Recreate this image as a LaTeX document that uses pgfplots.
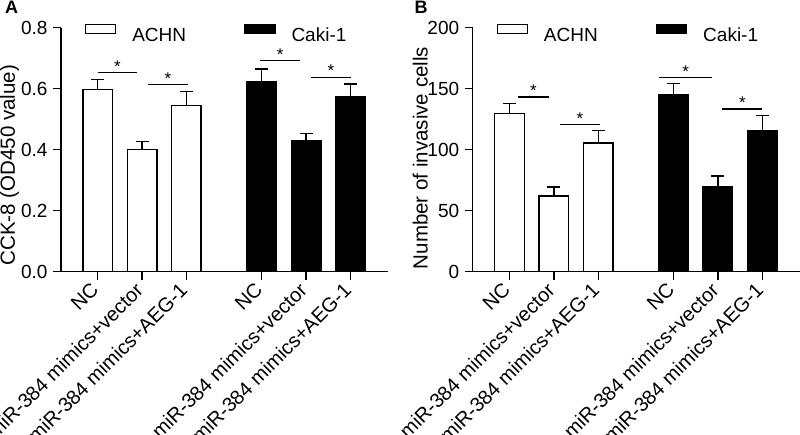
\documentclass[border=0pt]{standalone}
\usepackage{pgfplots}
\pgfplotsset{compat=1.18}
\usepackage{fontspec}
\setmainfont{Liberation Sans}
\pgfplotsset{
  panel/.style={
    scale only axis, width=327pt, height=244pt,
    axis lines=left, axis line style={-, line width=1.4pt},
    xmin=-0.83, xmax=6.55, ymin=0,
    tick align=outside, major tick length=8pt,
    tick style={line width=1.4pt, black},
    xtick={0,1,2,3.7,4.7,5.7},
    xticklabels={NC, miR-384 mimics+vector, miR-384 mimics+AEG-1, NC, miR-384 mimics+vector, miR-384 mimics+AEG-1},
    xticklabel style={xshift=-8pt, rotate=45, anchor=north east, inner sep=1pt, font=\fontsize{20}{24}\selectfont},
    yticklabel style={xshift=-2pt, font=\fontsize{19}{22}\selectfont},
    ylabel style={font=\fontsize{20.5}{24}\selectfont},
    /pgf/number format/assume math mode=true,
    clip=false,
    legend columns=2,
    legend style={at={(axis description cs:0.073,0.976)}, anchor=west, draw=none, fill=none,
      inner sep=0pt, outer sep=0pt,
      /tikz/every even column/.append style={column sep=58pt},
      /tikz/every odd column/.append style={column sep=16pt},
      nodes={inner sep=0pt, font=\fontsize{19}{22}\selectfont}},
  },
  barA/.style={ybar, bar width=0.667, bar shift=0pt, draw=black, line width=1.4pt,
    error bars/y dir=plus, error bars/y explicit,
    error bars/error bar style={line width=1.4pt, black},
    error bars/error mark options={rotate=90, mark size=6.5pt, line width=1.4pt, black},
    legend image code/.code={\draw[##1, line width=1.4pt] (0pt,2.3pt) rectangle (30pt,11.3pt);}},
  sig/.style={black, line width=1.1pt, forget plot, mark=none},
}
\begin{document}
\begin{tikzpicture}[x=1pt,y=1pt]
\useasboundingbox (0,0) rectangle (800,-435);
\node[font=\fontsize{18}{20}\selectfont\bfseries] at (11.5,-7) {A};
\node[font=\fontsize{18}{20}\selectfont\bfseries] at (421,-7) {B};
\begin{axis}[panel, at={(61pt,-271.7pt)}, anchor=south west,
  ymax=0.8, ytick={0,0.2,0.4,0.6,0.8},
  yticklabel style={/pgf/number format/.cd, fixed, fixed zerofill, precision=1},
  ylabel={CCK-8 (OD450 value)},
  ylabel style={at={(axis description cs:-0.157,0.437)}, anchor=center}]
\addplot[barA, fill=white]
  coordinates {(0,0.597) +- (0,0.034) (1,0.400) +- (0,0.026) (2,0.544) +- (0,0.046)};
\addlegendentry{ACHN}
\addplot[barA, fill=black]
  coordinates {(3.7,0.623) +- (0,0.041) (4.7,0.428) +- (0,0.026) (5.7,0.575) +- (0,0.041)};
\addlegendentry{Caki-1}
\addplot[sig] coordinates {(0,0.654) (0.89,0.654)};
\addplot[sig] coordinates {(1.13,0.614) (2.04,0.614)};
\addplot[sig] coordinates {(3.66,0.691) (4.57,0.691)};
\addplot[sig] coordinates {(4.81,0.638) (5.71,0.638)};
\node[anchor=south, inner sep=0pt, font=\fontsize{17}{20}\selectfont] at (axis cs:0.445,0.654) {*};
\node[anchor=south, inner sep=0pt, font=\fontsize{17}{20}\selectfont] at (axis cs:1.585,0.614) {*};
\node[anchor=south, inner sep=0pt, font=\fontsize{17}{20}\selectfont] at (axis cs:4.115,0.691) {*};
\node[anchor=south, inner sep=0pt, font=\fontsize{17}{20}\selectfont] at (axis cs:5.26,0.638) {*};
\end{axis}
\begin{axis}[panel, at={(472.7pt,-271.7pt)}, anchor=south west, width=327.3pt,
  ymax=200, ytick={0,50,100,150,200},
  ylabel={Number of invasive cells},
  ylabel style={at={(axis description cs:-0.16,0.466)}, anchor=center}]
\addplot[barA, fill=white]
  coordinates {(0,129.5) +- (0,8.5) (1,62) +- (0,7.5) (2,105.5) +- (0,10)};
\addlegendentry{ACHN}
\addplot[barA, fill=black]
  coordinates {(3.7,145) +- (0,9.5) (4.7,70) +- (0,8.5) (5.7,115.5) +- (0,12.5)};
\addlegendentry{Caki-1}
\addplot[sig] coordinates {(0.19,143.2) (0.89,143.2)};
\addplot[sig] coordinates {(1.14,120.8) (2.03,120.8)};
\addplot[sig] coordinates {(3.37,159.3) (4.57,159.3)};
\addplot[sig] coordinates {(4.8,133.4) (5.7,133.4)};
\node[anchor=south, inner sep=0pt, font=\fontsize{17}{20}\selectfont] at (axis cs:0.54,143.2) {*};
\node[anchor=south, inner sep=0pt, font=\fontsize{17}{20}\selectfont] at (axis cs:1.585,120.8) {*};
\node[anchor=south, inner sep=0pt, font=\fontsize{17}{20}\selectfont] at (axis cs:3.97,159.3) {*};
\node[anchor=south, inner sep=0pt, font=\fontsize{17}{20}\selectfont] at (axis cs:5.25,133.4) {*};
\end{axis}
\end{tikzpicture}
\end{document}
